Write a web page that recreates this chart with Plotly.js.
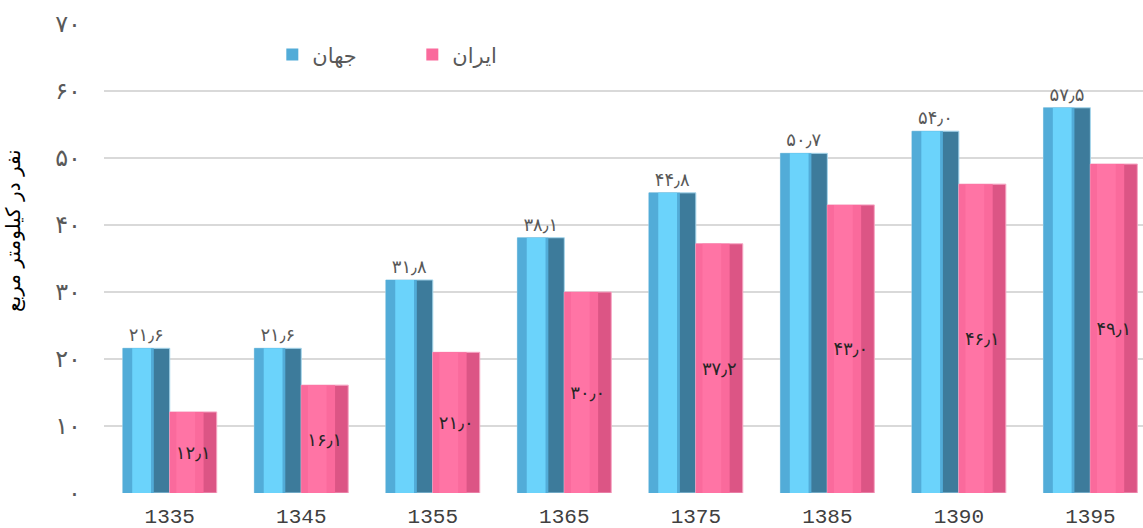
<!DOCTYPE html>
<html>
<head>
<meta charset="utf-8">
<script src="https://cdn.plot.ly/plotly-3.0.1.min.js"></script>
<style>html,body{margin:0;padding:0;background:#fff;}#chart{width:1143px;height:528px;}</style>
</head>
<body>
<div id="chart"></div>
<script>
// ---- data ----
const years = ['1335', '1345', '1355', '1365', '1375', '1385', '1390', '1395'];
const worldDensity = [21.6, 21.6, 31.8, 38.1, 44.8, 50.7, 54.0, 57.5];
const iranDensity = [12.1, 16.1, 21.0, 30.0, 37.2, 43.0, 46.1, 49.1];
const worldName = 'جهان';
const iranName = 'ایران';
const yTitle = 'نفر در کیلومتر مربع';
const yTickValues = [0, 10, 20, 30, 40, 50, 60, 70];

const faDigits = '۰۱۲۳۴۵۶۷۸۹';
function toFa(v, dec) {
  return v.toFixed(dec).replace('.', '٫').replace(/\d/g, d => faDigits[+d]);
}

const W = 0.357;
function layer(y, offset, width, color, extra) {
  return Object.assign({
    type: 'bar', x: years, y: y, offset: offset, width: width,
    marker: {color: color, line: {width: 0}},
    showlegend: false, hoverinfo: 'skip'
  }, extra || {});
}

const traces = [
  // world bars (layered to imitate bevel)
  layer(worldDensity, -W, W, '#3d7b9b', {marker: {color: '#3d7b9b', line: {color: '#a6d6ec', width: 1}}}),
  layer(worldDensity, -W, W * 0.66, '#52acd8', {name: worldName, showlegend: true, legendrank: 1}),
  layer(worldDensity, -W + W * 0.2, W * 0.4, '#6bd3fb'),
  // iran bars
  layer(iranDensity, 0, W, '#dc5585', {marker: {color: '#dc5585', line: {color: '#f7a6c4', width: 1}}}),
  layer(iranDensity, 0, W * 0.72, '#fa6a9c', {name: iranName, showlegend: true, legendrank: 2}),
  layer(iranDensity, W * 0.14, W * 0.4, '#ff74a5'),
  // labels
  layer(worldDensity, -W, W, 'rgba(0,0,0,0)', {
    text: worldDensity.map(v => toFa(v, 1)), textposition: 'outside', cliponaxis: false,
    textfont: {family: 'DejaVu Sans', size: 18, color: '#595959'}
  }),
  layer(iranDensity, 0, W, 'rgba(0,0,0,0)', {
    text: iranDensity.map(v => toFa(v, 1)), textposition: 'inside', insidetextanchor: 'middle',
    textfont: {family: 'DejaVu Sans', size: 18, color: '#262626'}
  })
];

const layout = {
  width: 1143, height: 528,
  margin: {l: 104, r: 0, t: 24, b: 35},
  paper_bgcolor: '#ffffff', plot_bgcolor: '#ffffff',
  barmode: 'overlay',
  font: {family: 'DejaVu Sans', color: '#595959'},
  xaxis: {
    type: 'category', range: [-0.5, 7.40],
    showgrid: false, zeroline: false, showline: false, ticks: '',
    tickfont: {family: 'Liberation Mono', size: 21, color: '#404040'},
    ticklabelstandoff: 8
  },
  yaxis: {
    range: [0, 70], tickvals: yTickValues,
    ticktext: yTickValues.map(v => toFa(v, 0)),
    showgrid: true, gridcolor: '#d9d9d9', gridwidth: 2,
    zeroline: false, showline: false, ticks: '',
    tickfont: {family: 'DejaVu Sans', size: 24, color: '#595959'},
    ticklabelstandoff: 22
  },
  annotations: [{
    text: yTitle, textangle: -90, showarrow: false,
    xref: 'paper', yref: 'paper', x: -0.087, y: 0.56,
    xanchor: 'center', yanchor: 'middle',
    font: {family: 'DejaVu Sans', size: 20, color: '#000000'}
  }],
  legend: {
    orientation: 'h', x: 0.162, y: 0.934, xanchor: 'left', yanchor: 'middle',
    font: {family: 'DejaVu Sans', size: 21, color: '#595959'},
    bgcolor: 'rgba(0,0,0,0)', entrywidth: 95, entrywidthmode: 'pixels',
    traceorder: 'normal'
  },
  showlegend: true
};

Plotly.newPlot('chart', traces, layout, {displayModeBar: false, staticPlot: true});
</script>
</body>
</html>
